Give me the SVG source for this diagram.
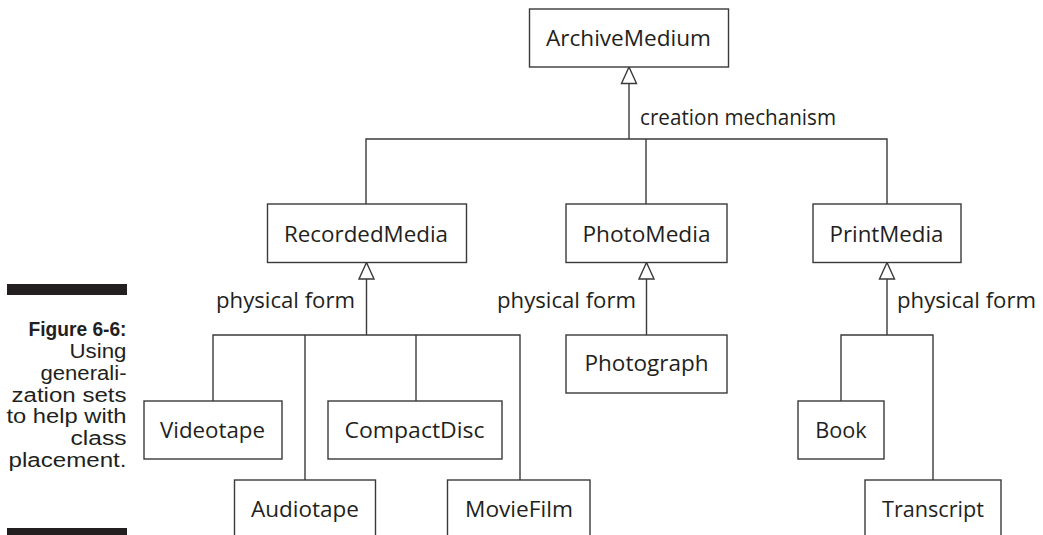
<svg xmlns="http://www.w3.org/2000/svg" width="1043" height="535" viewBox="0 0 1043 535">
  <style>
    .box { fill: #ffffff; stroke: #3a3a3a; stroke-width: 1.4; }
    .wire { fill: none; stroke: #3a3a3a; stroke-width: 1.4; }
    .lbl { font-family: "Open Sans", "Liberation Sans", sans-serif; font-size: 21.5px; fill: #231f20; }
    .mid { text-anchor: middle; }
    .cap { font-family: "Liberation Sans", "DejaVu Sans", sans-serif; font-size: 20px; fill: #231f20; text-anchor: end; }
    .capb { font-weight: bold; font-size: 21px; }
  </style>
  <defs>
    <!-- hollow generalization arrowhead -->
    <marker id="gen" viewBox="-18 -9 19 18" refX="0" refY="0" markerWidth="19" markerHeight="18" markerUnits="userSpaceOnUse" orient="auto">
      <path d="M0,0 L-16.5,-7.5 L-16.5,7.5 Z" fill="#ffffff" stroke="#3a3a3a" stroke-width="1.4" stroke-linejoin="miter"/>
    </marker>
  </defs>
  <rect width="1043" height="535" fill="#ffffff"/>

  <!-- figure caption -->
  <g id="caption">
    <rect x="7" y="284" width="120" height="11" fill="#231f20"/>
    <rect x="7" y="528" width="120" height="10" fill="#231f20"/>
    <text class="cap capb" x="126.5" y="336" textLength="98" lengthAdjust="spacingAndGlyphs">Figure 6-6:</text>
    <text class="cap" x="126.5" y="358" textLength="57" lengthAdjust="spacingAndGlyphs">Using</text>
    <text class="cap" x="126.5" y="380" textLength="86" lengthAdjust="spacingAndGlyphs">generali-</text>
    <text class="cap" x="126.5" y="401.5" textLength="115" lengthAdjust="spacingAndGlyphs">zation sets</text>
    <text class="cap" x="126.5" y="423" textLength="120" lengthAdjust="spacingAndGlyphs">to help with</text>
    <text class="cap" x="126.5" y="445" textLength="56" lengthAdjust="spacingAndGlyphs">class</text>
    <text class="cap" x="126.5" y="466.5" textLength="118" lengthAdjust="spacingAndGlyphs">placement.</text>
  </g>

  <!-- connectors -->
  <g id="connectors">
    <!-- ArchiveMedium generalization set -->
    <line class="wire" x1="629" y1="139" x2="629" y2="67" marker-end="url(#gen)"/>
    <path class="wire" d="M366,204 V139 H887 V204 M646,139 V204"/>
    <!-- RecordedMedia generalization set -->
    <line class="wire" x1="366.5" y1="335" x2="366.5" y2="262.5" marker-end="url(#gen)"/>
    <path class="wire" d="M213,401 V335 H520 V480 M305,335 V480 M416,335 V401"/>
    <!-- PhotoMedia generalization -->
    <line class="wire" x1="646.5" y1="335" x2="646.5" y2="262.5" marker-end="url(#gen)"/>
    <!-- PrintMedia generalization set -->
    <line class="wire" x1="887" y1="335" x2="887" y2="262.5" marker-end="url(#gen)"/>
    <path class="wire" d="M841,401 V335 H933 V480"/>
    <!-- generalization set labels -->
    <text class="lbl" x="640" y="125" textLength="196" lengthAdjust="spacingAndGlyphs">creation mechanism</text>
    <text class="lbl" x="216" y="308" textLength="139" lengthAdjust="spacingAndGlyphs">physical form</text>
    <text class="lbl" x="497" y="308" textLength="139" lengthAdjust="spacingAndGlyphs">physical form</text>
    <text class="lbl" x="897" y="308" textLength="139" lengthAdjust="spacingAndGlyphs">physical form</text>
  </g>

  <g id="ArchiveMedium">
    <rect class="box" x="529.5" y="9" width="199" height="58"/>
    <text class="lbl mid" x="628.5" y="45.5" textLength="165" lengthAdjust="spacingAndGlyphs">ArchiveMedium</text>
  </g>
  <g id="RecordedMedia">
    <rect class="box" x="267.5" y="204" width="199" height="58.5"/>
    <text class="lbl mid" x="366" y="241.5" textLength="164" lengthAdjust="spacingAndGlyphs">RecordedMedia</text>
  </g>
  <g id="PhotoMedia">
    <rect class="box" x="566" y="204" width="161" height="58.5"/>
    <text class="lbl mid" x="646.5" y="241.5" textLength="128" lengthAdjust="spacingAndGlyphs">PhotoMedia</text>
  </g>
  <g id="PrintMedia">
    <rect class="box" x="813" y="204" width="148" height="58.5"/>
    <text class="lbl mid" x="886.5" y="241.5" textLength="114" lengthAdjust="spacingAndGlyphs">PrintMedia</text>
  </g>
  <g id="Photograph">
    <rect class="box" x="566" y="335" width="161" height="58"/>
    <text class="lbl mid" x="646.5" y="371" textLength="124" lengthAdjust="spacingAndGlyphs">Photograph</text>
  </g>
  <g id="Videotape">
    <rect class="box" x="144" y="401" width="138" height="58"/>
    <text class="lbl mid" x="212.5" y="438" textLength="105" lengthAdjust="spacingAndGlyphs">Videotape</text>
  </g>
  <g id="CompactDisc">
    <rect class="box" x="328" y="401" width="174" height="58"/>
    <text class="lbl mid" x="414.5" y="438" textLength="140" lengthAdjust="spacingAndGlyphs">CompactDisc</text>
  </g>
  <g id="Audiotape">
    <rect class="box" x="234.5" y="480" width="141" height="70"/>
    <text class="lbl mid" x="305" y="517" textLength="108" lengthAdjust="spacingAndGlyphs">Audiotape</text>
  </g>
  <g id="MovieFilm">
    <rect class="box" x="447.5" y="480" width="142.5" height="70"/>
    <text class="lbl mid" x="519" y="517" textLength="108" lengthAdjust="spacingAndGlyphs">MovieFilm</text>
  </g>
  <g id="Book">
    <rect class="box" x="798" y="401" width="86" height="58"/>
    <text class="lbl mid" x="841" y="437.5" textLength="51.5" lengthAdjust="spacingAndGlyphs">Book</text>
  </g>
  <g id="Transcript">
    <rect class="box" x="865" y="480" width="136" height="70"/>
    <text class="lbl mid" x="933" y="517" textLength="102" lengthAdjust="spacingAndGlyphs">Transcript</text>
  </g>
</svg>
